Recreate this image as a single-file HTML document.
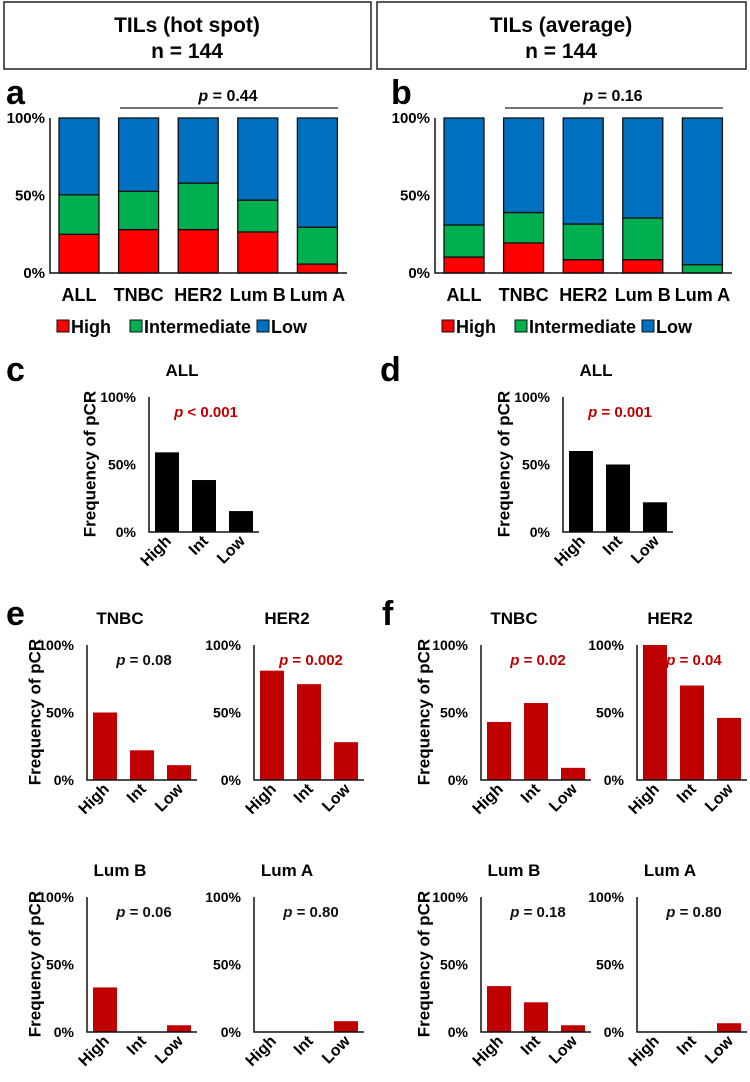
<!DOCTYPE html>
<html><head><meta charset="utf-8"><style>
body{margin:0;background:#fff;}
svg{display:block;font-family:"Liberation Sans",Arial,sans-serif;font-weight:bold;}
</style></head><body>
<svg id="fig" width="750" height="1082" viewBox="0 0 750 1082" xmlns="http://www.w3.org/2000/svg">
<rect x="4" y="2" width="367" height="67" fill="#fff" stroke="#222" stroke-width="1.5"/>
<text x="187" y="32" font-size="21" text-anchor="middle">TILs (hot spot)</text>
<text x="187" y="58" font-size="21" text-anchor="middle">n = 144</text>
<rect x="377" y="2" width="369" height="67" fill="#fff" stroke="#222" stroke-width="1.5"/>
<text x="561" y="32" font-size="21" text-anchor="middle">TILs (average)</text>
<text x="561" y="58" font-size="21" text-anchor="middle">n = 144</text>
<g id="root"></g>
</svg>
<script>
// Stacked panels a/b
const stackCats = ["ALL","TNBC","HER2","Lum B","Lum A"];
const aHigh = [25, 28, 28, 26.5, 5.8];
const aInter = [25.5, 24.7, 30, 20.5, 23.7];
const bHigh = [10.3, 19.4, 8.6, 8.6, 0];
const bInter = [20.7, 19.6, 23, 26.9, 5.4];
const stackTicks = ["0%","50%","100%"];
// pCR panels
const pcrCats = ["High","Int","Low"];
const cVals = [59, 38.5, 15.5];
const dVals = [60, 50, 22];
const eTNBC = [50, 22, 11];
const eHER2 = [81, 71, 28];
const eLumB = [33, 0, 5];
const eLumA = [0, 0, 8];
const fTNBC = [43, 57, 9];
const fHER2 = [100, 70, 46];
const fLumB = [34, 22, 5];
const fLumA = [0, 0, 6.5];

const NS="http://www.w3.org/2000/svg";
const root=document.getElementById('root');
function mk(tag,attrs,parent,txt){const e=document.createElementNS(NS,tag);for(const k in attrs)e.setAttribute(k,attrs[k]);if(txt!==undefined)e.textContent=txt;(parent||root).appendChild(e);return e;}

function stackPanel(ox,letter,high,inter,pval){
  const g=mk('g',{});
  
  
  const top=118,bot=273,h=bot-top;
  const y=v=>bot-v/100*h;
  const x0=ox+9, step=59.6, bw=40;
  const L=mk('text',{x:ox-44,y:104,'font-size':34},g,letter);
  
  
  stackTicks.forEach((t,i)=>{const tk=mk('text',{x:ox-5,y:y(i*50)+5,'font-size':15,'text-anchor':'end'},g,t);
    
    });
  stackCats.forEach((c,i)=>{
    const bx=x0+i*step;
    const hi=high[i], it=inter[i];
    const segs=[[0,hi,'#ff0000','high'],[hi,hi+it,'#00b050','intermediate'],[hi+it,100,'#0070c0','low']];
    segs.forEach(s=>{if(s[1]-s[0]<=0)return;
      const r=mk('rect',{x:bx,y:y(s[1]),width:bw,height:y(s[0])-y(s[1]),fill:s[2],stroke:'#111','stroke-width':1.3},g);
      
      });
    const cl=mk('text',{x:bx+bw/2,y:301,'font-size':18,'text-anchor':'middle'},g,c);
    
    
  });
  const ax=mk('path',{d:`M${ox} ${top}V${bot}H${ox+297}`,stroke:'#111','stroke-width':1.5,fill:'none'},g);
  
  
  const pl=mk('line',{x1:ox+70,x2:ox+288,y1:108,y2:108,stroke:'#222','stroke-width':1.2},g);
  
  
  const pt=mk('text',{x:ox+178,y:101,'font-size':16,'text-anchor':'middle'},g);
  
  
  mk('tspan',{'font-style':'italic'},pt,'p');mk('tspan',{},pt,' = '+pval);
  // legend
  const leg=[['High','#ff0000',7],['Intermediate','#00b050',80],['Low','#0070c0',207]];
  leg.forEach(l=>{
    const sq=mk('rect',{x:ox+l[2],y:320,width:12,height:12,fill:l[1],stroke:'#111','stroke-width':1},g);
    
    
    const lt=mk('text',{x:ox+l[2]+14,y:333,'font-size':18},g,l[0]);
    
    
  });
}
stackPanel(50,'a',aHigh,aInter,'0.44');
stackPanel(435,'b',bHigh,bInter,'0.16');

function pcrPanel(ax,top,title,vals,color,pval,pcolor,ylab,name){
  const g=mk('g',{});
  
  
  const bot=top+135,h=bot-top;
  const y=v=>bot-v/100*h;
  const step=37, bw=24;
  const t=mk('text',{x:ax+33,y:top-21,'font-size':17,'text-anchor':'middle'},g,title);
  
  
  [0,50,100].forEach(v=>{const tk=mk('text',{x:ax-13,y:y(v)+5,'font-size':14,'text-anchor':'end'},g,v+'%');
    
    });
  vals.forEach((v,i)=>{
    const bx=ax+6+i*step;
    if(v>0){const r=mk('rect',{x:bx,y:y(v),width:bw,height:bot-y(v),fill:color},g);
      
      }
    const cx=bx+bw/2+5, cy=bot+10;
    const cl=mk('text',{x:cx,y:cy,'font-size':16,'text-anchor':'end',transform:`rotate(-45 ${cx} ${cy})`},g,pcrCats[i]);
    
    
  });
  const a=mk('path',{d:`M${ax} ${top}V${bot}H${ax+110}`,stroke:'#111','stroke-width':1.5,fill:'none'},g);
  
  
  const pt=mk('text',{x:ax+57,y:top+20,'font-size':15,'text-anchor':'middle',fill:pcolor},g);
  
  
  mk('tspan',{'font-style':'italic'},pt,'p');mk('tspan',{},pt,pval);
  if(ylab!==null){
    const yl=mk('text',{x:ylab,y:top+67,'font-size':17,'text-anchor':'middle',transform:`rotate(-90 ${ylab} ${top+67})`,'dominant-baseline':'middle'},g,'Frequency of pCR');
    
    
  }
}
function letter(x,y,l){const t=mk('text',{x:x,y:y,'font-size':34},root,l);
  
  }
letter(6,381,'c');letter(380,381,'d');letter(6,625,'e');letter(382,625,'f');
pcrPanel(149,397,'ALL',cVals,'#000',' < 0.001','#c00000',91,'panel-c');
pcrPanel(563,397,'ALL',dVals,'#000',' = 0.001','#c00000',505,'panel-d');
pcrPanel(87,645,'TNBC',eTNBC,'#c00000',' = 0.08','#111',36,'panel-e-tnbc');
pcrPanel(254,645,'HER2',eHER2,'#c00000',' = 0.002','#c00000',null,'panel-e-her2');
pcrPanel(87,897,'Lum B',eLumB,'#c00000',' = 0.06','#111',36,'panel-e-lumb');
pcrPanel(254,897,'Lum A',eLumA,'#c00000',' = 0.80','#111',null,'panel-e-luma');
pcrPanel(481,645,'TNBC',fTNBC,'#c00000',' = 0.02','#c00000',425,'panel-f-tnbc');
pcrPanel(637,645,'HER2',fHER2,'#c00000',' = 0.04','#c00000',null,'panel-f-her2');
pcrPanel(481,897,'Lum B',fLumB,'#c00000',' = 0.18','#111',425,'panel-f-lumb');
pcrPanel(637,897,'Lum A',fLumA,'#c00000',' = 0.80','#111',null,'panel-f-luma');
</script>
</body></html>
